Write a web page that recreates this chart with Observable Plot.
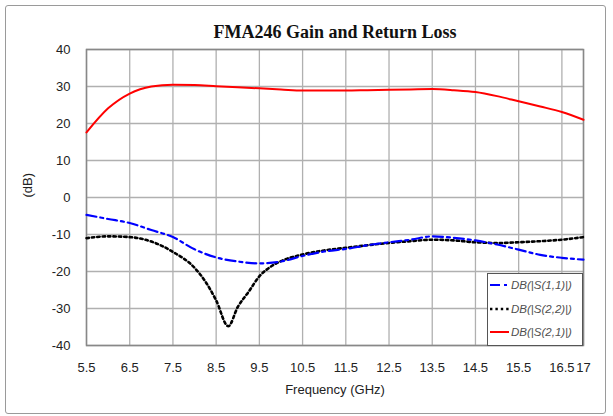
<!DOCTYPE html>
<html>
<head>
<meta charset="utf-8">
<script src="https://cdn.jsdelivr.net/npm/d3@7"></script>
<script src="https://cdn.jsdelivr.net/npm/@observablehq/plot@0.6"></script>
<style>
  html, body { margin: 0; padding: 0; background: #fff; }
  #wrap { position: relative; width: 613px; height: 416px; }
  #border { position: absolute; left: 5px; top: 5px; width: 599px; height: 407px; border: 1.5px solid #9a9a9a; border-radius: 3px; pointer-events: none; }
  #legend { position: absolute; left: 487px; top: 273px; width: 94px; height: 71px; border: 1px solid #555; background: #fff;
            font-family: "Liberation Sans", Arial, sans-serif; font-style: italic; font-size: 11.5px; color: #505050; }
  .row { position: absolute; left: 2px; height: 14px; display: flex; align-items: center; white-space: nowrap; }
  .row svg { margin-right: 2px; }
</style>
</head>
<body>
<div id="wrap">
  <div id="chart"></div>
  <div id="border"></div>
  <div id="legend"></div>
</div>
<script>
const title = "FMA246 Gain and Return Loss";
const xLabel = "Frequency (GHz)";
const yLabel = "(dB)";
const xTicks = [5.5, 6.5, 7.5, 8.5, 9.5, 10.5, 11.5, 12.5, 13.5, 14.5, 15.5, 16.5, 17];
const yTicks = [-40, -30, -20, -10, 0, 10, 20, 30, 40];

const freq = [5.5, 6, 6.5, 7, 7.5, 8, 8.5, 9, 9.5, 10, 10.5, 11, 11.5, 12, 12.5, 13, 13.5, 14, 14.5, 15, 15.5, 16, 16.5, 17];
const s21 = [17.6, 24.1, 28.1, 30.0, 30.5, 30.4, 30.1, 29.8, 29.5, 29.2, 28.9, 28.9, 28.9, 29.0, 29.1, 29.2, 29.3, 29.0, 28.5, 27.4, 26.0, 24.6, 23.1, 21.0];
const s11 = [-4.7, -5.8, -6.9, -8.8, -10.7, -14.0, -16.2, -17.3, -17.8, -17.3, -15.8, -14.6, -13.9, -12.9, -12.1, -11.4, -10.5, -10.9, -11.6, -12.7, -14.1, -15.5, -16.3, -16.8];

const freq22 = [5.5, 6, 6.5, 7, 7.5, 8, 8.25, 8.5, 8.78, 9, 9.25, 9.5, 9.75, 10, 10.5, 11, 11.5, 12, 12.5, 13, 13.5, 14, 14.5, 15, 15.5, 16, 16.5, 17];
const s22 = [-11.0, -10.5, -10.7, -11.9, -14.7, -19.0, -22.7, -27.8, -34.8, -29.6, -25.5, -21.3, -18.8, -17.2, -15.4, -14.3, -13.6, -12.9, -12.3, -11.8, -11.4, -11.6, -12.1, -12.3, -12.1, -11.8, -11.4, -10.7];

const seriesNames = ["DB(|S(1,1)|)", "DB(|S(2,2)|)", "DB(|S(2,1)|)"];

const d21 = freq.map((f, i) => ({f, v: s21[i]}));
const d11 = freq.map((f, i) => ({f, v: s11[i]}));
const d22 = freq22.map((f, i) => ({f, v: s22[i]}));

const font = "Liberation Sans, Arial, sans-serif";
const dash11 = "10,4,3,4";
const dash22 = "2.4,3";

const chart = Plot.plot({
  width: 613,
  height: 416,
  marginLeft: 86,
  marginRight: 30,
  marginTop: 49,
  marginBottom: 71,
  style: { fontFamily: font, fontSize: "13px", color: "#222", background: "transparent" },
  x: { domain: [5.5, 17] },
  y: { domain: [-40, 40] },
  marks: [
    Plot.gridX(xTicks, { stroke: "#b0b0b0", strokeOpacity: 1, strokeWidth: 1.3 }),
    Plot.gridY(yTicks, { stroke: "#b0b0b0", strokeOpacity: 1, strokeWidth: 1.3 }),
    Plot.frame({ stroke: "#888", strokeWidth: 1.5 }),
    Plot.axisX(xTicks, { tickSize: 0, tickPadding: 17, tickFormat: d => String(d), label: null, fontSize: 13, fill: "#222" }),
    Plot.axisY(yTicks, { tickSize: 0, tickPadding: 16, tickFormat: d => String(d), label: null, fontSize: 13, fill: "#222" }),
    Plot.line(d22, { x: "f", y: "v", stroke: "#000", strokeWidth: 2.6, strokeDasharray: dash22, curve: "monotone-x" }),
    Plot.line(d11, { x: "f", y: "v", stroke: "#0000ff", strokeWidth: 2.2, strokeDasharray: dash11, curve: "monotone-x" }),
    Plot.line(d21, { x: "f", y: "v", stroke: "#ff0000", strokeWidth: 2, curve: "monotone-x" }),
    Plot.text([title], { frameAnchor: "top", lineAnchor: "middle", dy: -17, text: d => d, fontFamily: "Liberation Serif, Times New Roman, serif", fontWeight: "bold", fontSize: 18, fill: "#111" }),
    Plot.text([xLabel], { frameAnchor: "bottom", lineAnchor: "middle", dy: 44, text: d => d, fontSize: 13, fill: "#222" }),
    Plot.text([yLabel], { frameAnchor: "left", dx: -59, rotate: -90, text: d => d, fontSize: 13, fill: "#222" })
  ]
});
document.getElementById("chart").appendChild(chart);

// legend
const legend = document.getElementById("legend");
const styles = [
  { stroke: "#0000ff", dash: dash11, w: 2.2 },
  { stroke: "#000", dash: dash22, w: 2.6 },
  { stroke: "#ff0000", dash: null, w: 2 }
];
const tops = [4, 28, 51];
seriesNames.forEach((name, i) => {
  const row = document.createElement("div");
  row.className = "row";
  row.style.top = tops[i] + "px";
  const s = styles[i];
  row.innerHTML = `<svg width="19" height="6"><line x1="0" y1="3" x2="19" y2="3" stroke="${s.stroke}" stroke-width="${s.w}" ${s.dash ? `stroke-dasharray="${s.dash}"` : ""}/></svg><span>${name}</span>`;
  legend.appendChild(row);
});
</script>
</body>
</html>
